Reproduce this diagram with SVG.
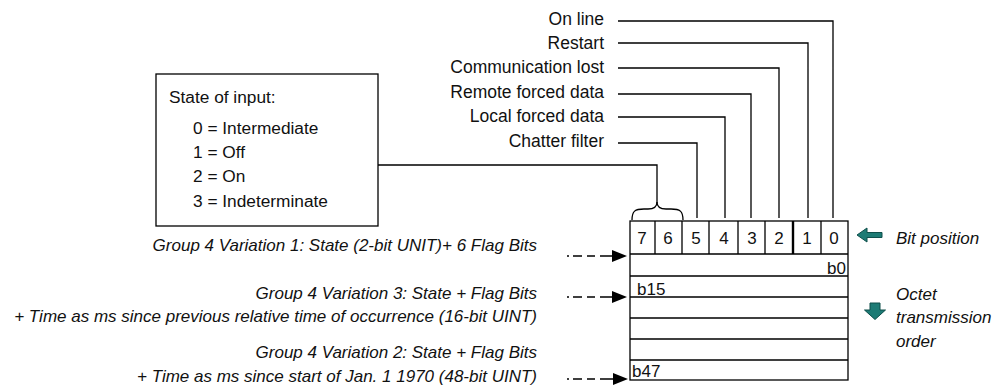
<svg xmlns="http://www.w3.org/2000/svg" width="1000" height="386" viewBox="0 0 1000 386">
<style>
text{font-family:"Liberation Sans",Arial,sans-serif;font-size:17px;fill:#111}
.it{font-style:italic}
.r{text-anchor:end}
.m{text-anchor:middle}
.fl{font-size:17.5px}
.bx{font-size:17.3px}
.ln{fill:none;stroke:#000;stroke-width:1.3}
.teal{fill:#1d7b75;stroke:#0e4f4b;stroke-width:1}
</style>
<rect width="1000" height="386" fill="#fff"/>
<g id="connectors">
<path class="ln" d="M618,21 H833 V218 M618,43 H808 V218 M618,68 H779 V218 M618,94 H751 V218 M618,117 H725 V218 M618,143 H697 V218"/>
<path class="ln" d="M378,165 H657 V203"/>
<path class="ln" d="M632,220 C632,211 635,209 644,209 L648,209 C654,209 657,207 657,202 C657,207 660,209 666,209 L671,209 C680,209 683,211 683,220"/>
<path class="ln" d="M567,256 h2 M573,256 h9 M587,256 h8 M600,256 h13"/>
<polygon points="612,250 627,256 612,262" fill="#000"/>
<path class="ln" d="M567,297 h2 M573,297 h9 M587,297 h8 M600,297 h13"/>
<polygon points="612,291 627,297 612,303" fill="#000"/>
<path class="ln" d="M567,379 h2 M573,379 h9 M587,379 h8 M600,379 h14"/>
<polygon points="613,373 628,379 613,385" fill="#000"/>
</g>
<g id="flag-labels">
<text class="r fl" x="604" y="25">On line</text>
<text class="r fl" x="604" y="49">Restart</text>
<text class="r fl" x="604" y="73">Communication lost</text>
<text class="r fl" x="604" y="98">Remote forced data</text>
<text class="r fl" x="604" y="122">Local forced data</text>
<text class="r fl" x="604" y="147">Chatter filter</text>
</g>
<g id="state-box">
<rect x="156" y="74" width="222" height="152" fill="#fff" stroke="#000" stroke-width="1.3"/>
<text class="bx" x="169" y="103">State of input:</text>
<text class="bx" x="193" y="134">0 = Intermediate</text>
<text class="bx" x="193" y="158">1 = Off</text>
<text class="bx" x="193" y="182">2 = On</text>
<text class="bx" x="193" y="207">3 = Indeterminate</text>
</g>
<g id="octet-table">
<rect x="630" y="221" width="218" height="159" fill="#fff" stroke="#000" stroke-width="1.3"/>
<path class="ln" d="M630,254 H848 M630,276 H848 M630,297 H848 M630,318 H848 M630,339 H848 M630,360 H848 M655,221 V254 M682,221 V254 M709,221 V254 M738,221 V254 M765,221 V254 M821,221 V254"/>
<path d="M793,221 V254" stroke="#000" stroke-width="2.4"/>
<text class="m" x="642" y="244">7</text>
<text class="m" x="668" y="244">6</text>
<text class="m" x="696" y="244">5</text>
<text class="m" x="724" y="244">4</text>
<text class="m" x="752" y="244">3</text>
<text class="m" x="779" y="244">2</text>
<text class="m" x="807" y="244">1</text>
<text class="m" x="834" y="244">0</text>
<text class="r" x="846" y="274">b0</text>
<text x="637" y="295">b15</text>
<text x="632" y="377">b47</text>
</g>
<g id="variation-labels">
<text class="it r" x="537" y="251">Group 4 Variation 1: State (2-bit UNIT)+ 6 Flag Bits</text>
<text class="it r" x="537" y="299">Group 4 Variation 3: State + Flag Bits</text>
<text class="it r" x="537" y="322">+ Time as ms since previous relative time of occurrence (16-bit UINT)</text>
<text class="it r" x="537" y="358">Group 4 Variation 2: State + Flag Bits</text>
<text class="it r" x="537" y="382">+ Time as ms since start of Jan. 1 1970 (48-bit UINT)</text>
</g>
<g id="legend">
<polygon class="teal" points="857,235 867,228 867,232.5 882,232.5 882,237.5 867,237.5 867,242"/>
<text class="it" x="896" y="244">Bit position</text>
<polygon class="teal" points="870,303 880,303 880,310 885.5,310 875,319.5 864.5,310 870,310"/>
<text class="it" x="896" y="300">Octet</text>
<text class="it" x="896" y="323">transmission</text>
<text class="it" x="896" y="347">order</text>
</g>
</svg>
